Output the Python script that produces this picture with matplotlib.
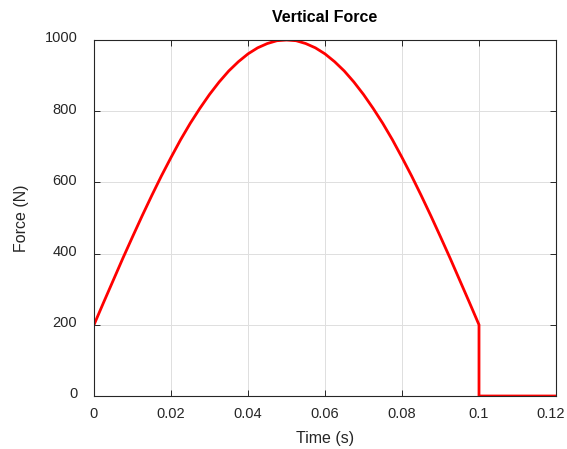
import numpy as np
import matplotlib
matplotlib.use("Agg")
import matplotlib.pyplot as plt
from matplotlib.transforms import ScaledTranslation

# readings (time in s, force in N)
rise_t = [0.0, 0.0025, 0.005, 0.0075, 0.01, 0.0125, 0.015, 0.0175, 0.02, 0.0225,
          0.025, 0.0275, 0.03, 0.0325, 0.035, 0.0375, 0.04, 0.0425, 0.045, 0.0475, 0.05]
rise_f = [200, 263, 325, 387, 447, 506, 563, 618, 670, 720,
          766, 808, 847, 882, 913, 939, 961, 978, 990, 998, 1000]
fall_t = [0.0525, 0.055, 0.0575, 0.06, 0.0625, 0.065, 0.0675, 0.07, 0.0725, 0.075,
          0.0775, 0.08, 0.0825, 0.085, 0.0875, 0.09, 0.0925, 0.095, 0.0975, 0.1]
fall_f = [998, 990, 978, 961, 939, 913, 882, 847, 808, 766,
          720, 670, 618, 563, 506, 447, 387, 325, 263, 200]
tail_t = [0.1, 0.12]
tail_f = [0, 0]

time = rise_t + fall_t + tail_t
force = rise_f + fall_f + tail_f

plt.rcParams["font.family"] = ["Liberation Sans", "DejaVu Sans"]

fig = plt.figure(figsize=(5.67, 4.49), dpi=100)
ax = fig.add_axes([94 / 567, 1 - 396 / 449, 462 / 567, 356 / 449])
ax.plot(time, force, color="#ff0000", lw=2.0, solid_joinstyle="miter")

ax.set_xlim(0, 0.12)
ax.set_ylim(0, 1000)
ax.set_xticks([0, 0.02, 0.04, 0.06, 0.08, 0.1, 0.12])
ax.set_xticklabels(["0", "0.02", "0.04", "0.06", "0.08", "0.1", "0.12"])
ax.set_yticks([0, 200, 400, 600, 800, 1000])
ax.grid(True, color="#dfdfdf", lw=0.7)
ax.set_axisbelow(True)
ax.tick_params(direction="in", length=4, width=0.7, colors="#262626",
               labelsize=10.5, top=True, right=True)
ax.tick_params(axis="x", pad=8)
ax.tick_params(axis="y", pad=12)
for s in ax.spines.values():
    s.set_color("#262626")
    s.set_linewidth(0.8)

# nudge labels the way the reference sits them
up = ScaledTranslation(0, 3 / 100, fig.dpi_scale_trans)
for lab in ax.get_yticklabels():
    lab.set_transform(lab.get_transform() + up)
last = ax.get_xticklabels()[-1]
last.set_transform(last.get_transform() + ScaledTranslation(-5 / 100, 0, fig.dpi_scale_trans))

ax.set_xlabel("Time (s)", fontsize=11.5, color="#262626", labelpad=7)
ax.set_ylabel("Force (N)", fontsize=11.5, color="#262626", labelpad=11)
ax.set_title("Vertical Force", fontsize=11.5, fontweight="bold", pad=13)

fig.savefig("out.png", dpi=100)
